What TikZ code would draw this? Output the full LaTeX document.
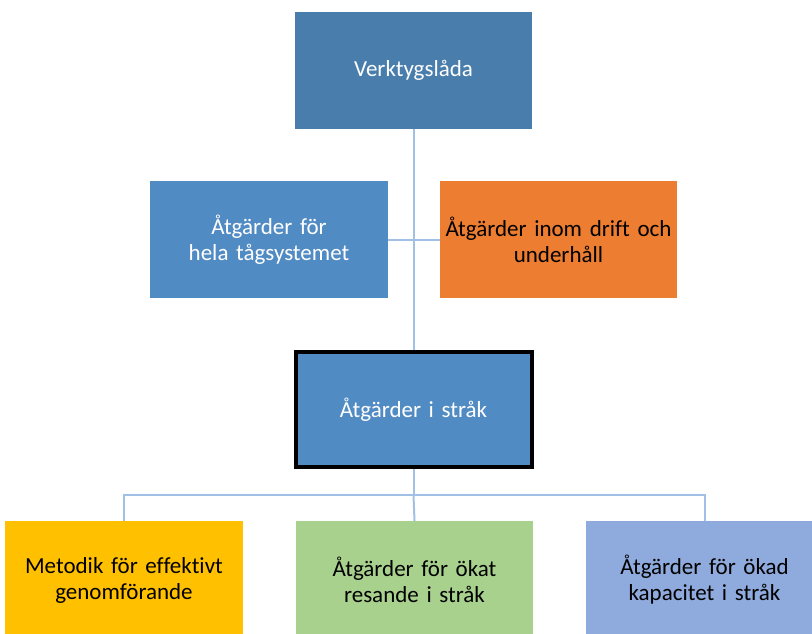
\documentclass[tikz,border=0pt]{standalone}
\usepackage{fontspec}
\setmainfont{Carlito}[Ligatures=NoCommon]
\definecolor{topblue}{RGB}{72,125,172}
\definecolor{midblue}{RGB}{81,139,196}
\definecolor{orng}{RGB}{237,125,49}
\definecolor{yel}{RGB}{255,192,0}
\definecolor{grn}{RGB}{169,209,142}
\definecolor{bgrey}{RGB}{143,170,220}
\definecolor{conn}{RGB}{160,192,230}
\begin{document}
\begin{tikzpicture}[x=1pt,y=-1pt,
  box/.style={rectangle,minimum width=237pt,minimum height=117pt,inner sep=1pt,align=center,font=\fontsize{23}{26}\selectfont,text width=234pt},
  conline/.style={draw=conn,line width=2pt}]
\useasboundingbox (0,0) rectangle (812,633);
\node[box,fill=topblue,text=white] (top) at (413.5,70.5) {Verktygslåda};
\node[box,fill=midblue,text=white,minimum width=238pt] (left) at (269,239.5) {Åtgärder för\\hela tågsystemet};
\node[box,fill=orng,text=black] (right) at (558.5,239.5) {Åtgärder inom drift och\\underhåll};
\node[box,fill=midblue,text=white,draw=black,line width=4pt,minimum width=235pt,minimum height=115pt] (mid) at (413.5,409.5) {Åtgärder i stråk};
\node[box,fill=yel,text=black,minimum width=238pt,minimum height=118pt] (b1) at (124,580) {Metodik för effektivt\\genomförande};
\node[box,fill=grn,text=black,minimum height=118pt] (b2) at (414.5,580) {Åtgärder för ökat\\resande i stråk};
\node[box,fill=bgrey,text=black,minimum height=118pt] (b3) at (704.5,580) {Åtgärder för ökad\\kapacitet i stråk};
\coordinate (bus) at (413.5,495);
\draw[conline] (top.south) -- (mid.north);
\draw[conline] (left.east) -- (right.west);
\draw[conline] (mid.south) -- (bus);
\draw[conline] (bus) -| (b1.north);
\draw[conline] (bus) -| (b3.north);
\draw[conline] (bus) -- (b2.north);
\end{tikzpicture}
\end{document}
